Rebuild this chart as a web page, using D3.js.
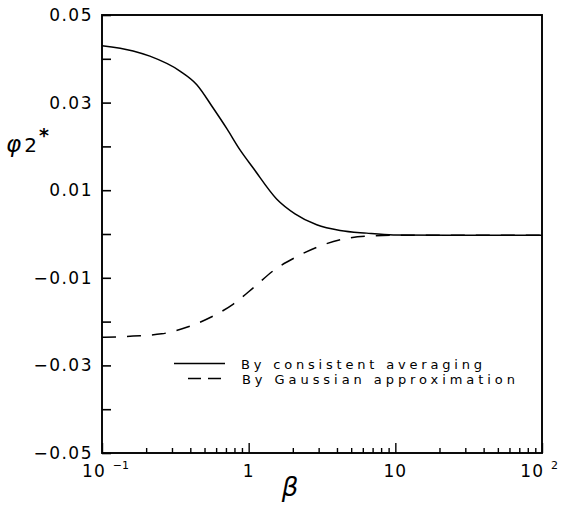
<!DOCTYPE html>
<html>
<head>
<meta charset="utf-8">
<script src="https://cdn.jsdelivr.net/npm/d3@7"></script>
<style>
  html, body { margin: 0; padding: 0; background: #fff; }
  svg { display: block; }
  text { font-family: "DejaVu Sans", sans-serif; fill: #000; }
</style>
</head>
<body>
<svg id="chart" width="563" height="508"></svg>
<script>
// β values and φ2* for the consistent-averaging result (solid curve)
const betaAveraging = [0.1, 0.163, 0.212, 0.34, 0.443, 0.574, 0.708, 0.873, 1.077, 1.55, 2.07, 2.91, 4.2, 6.38, 9.7, 23.5, 100];
const phiAveraging  = [0.0430, 0.0418, 0.0406, 0.0372, 0.0341, 0.0287, 0.0241, 0.0192, 0.0150, 0.0080, 0.0046, 0.0021, 0.0008, 0.0002, -0.0002, -0.0003, -0.0003];

// β values and φ2* for the Gaussian approximation (dashed curve)
const betaGaussian = [0.1, 0.163, 0.255, 0.378, 0.56, 0.786, 1.10, 1.51, 2.12, 2.98, 4.66, 7.08, 9.64, 100];
const phiGaussian  = [-0.0236, -0.0233, -0.0228, -0.0213, -0.0189, -0.0160, -0.0120, -0.0081, -0.0052, -0.0029, -0.0010, -0.0004, -0.0003, -0.0003];

// Axis ticks
const yTickValues = [0.05, 0.04, 0.03, 0.02, 0.01, 0, -0.01, -0.02, -0.03, -0.04, -0.05];
const yLabelValues = [0.05, 0.03, 0.01, -0.01, -0.03, -0.05];
const xMajorValues = [0.1, 1, 10, 100];
const xMajorLabels = [["10", "\u22121"], ["1", null], ["10", null], ["10", "2"]];
const xMinorValues = [0.2,0.3,0.4,0.5,0.6,0.7,0.8,0.9, 2,3,4,5,6,7,8,9, 20,30,40,50,60,70,80,90];

const seriesNames = ["By consistent averaging", "By Gaussian approximation"];

const svg = d3.select("#chart");
const plotLeft = 102, plotRight = 542, plotTop = 15, plotBottom = 453;

const x = d3.scaleLog().domain([0.1, 100]).range([plotLeft, plotRight]);
const y = d3.scaleLinear().domain([-0.05, 0.05]).range([plotBottom, plotTop]);

// y axis: inward ticks at every 0.01
svg.append("g")
  .attr("transform", `translate(${plotLeft},0)`)
  .call(d3.axisLeft(y).tickValues(yTickValues).tickSize(-9).tickSizeOuter(0).tickFormat(""))
  .call(g => g.select(".domain").remove())
  .selectAll("line").attr("stroke", "#000").attr("stroke-width", 1.6);

// y labels
const fmt = d3.format(".2f");
svg.append("g")
  .attr("transform", `translate(${plotLeft},0)`)
  .call(d3.axisLeft(y).tickValues(yLabelValues).tickSize(0).tickPadding(9).tickFormat(d => fmt(d)))
  .call(g => g.select(".domain").remove())
  .selectAll("text")
    .attr("font-size", 17)
    .attr("letter-spacing", "1.5px")
    .attr("font-family", "DejaVu Sans, sans-serif")
    .attr("fill", "#000");

// x axis minor ticks
svg.append("g")
  .attr("transform", `translate(0,${plotBottom})`)
  .call(d3.axisBottom(x).tickValues(xMinorValues).tickSize(-5).tickSizeOuter(0).tickFormat(""))
  .call(g => g.select(".domain").remove())
  .selectAll("line").attr("stroke", "#000").attr("stroke-width", 1.4);

// x axis major ticks
svg.append("g")
  .attr("transform", `translate(0,${plotBottom})`)
  .call(d3.axisBottom(x).tickValues(xMajorValues).tickSize(-10).tickSizeOuter(0).tickFormat(""))
  .call(g => g.select(".domain").remove())
  .selectAll("line").attr("stroke", "#000").attr("stroke-width", 1.4);

// x labels with powers of ten
xMajorValues.forEach((v, i) => {
  const [base, sup] = xMajorLabels[i];
  const t = svg.append("text")
    .attr("y", 477)
    .attr("font-size", 17)
    .attr("letter-spacing", "1px");
  t.append("tspan").text(base);
  if (sup) {
    t.append("tspan").attr("dx", 7).attr("dy", -8).attr("font-size", 11).attr("letter-spacing", "0px").text(sup);
  }
  const w = t.node().getComputedTextLength();
  let cx = x(v) - w / 2;
  if (cx + w > plotRight + 9) cx = plotRight + 9 - w;
  t.attr("x", cx);
});

// frame
svg.append("rect")
  .attr("x", plotLeft).attr("y", plotTop)
  .attr("width", plotRight - plotLeft).attr("height", plotBottom - plotTop)
  .attr("fill", "none").attr("stroke", "#000").attr("stroke-width", 1.9);

// curves
const line = d3.line().x(d => x(d[0])).y(d => y(d[1])).curve(d3.curveMonotoneX);

svg.append("path")
  .datum(d3.zip(betaAveraging, phiAveraging))
  .attr("d", line)
  .attr("fill", "none").attr("stroke", "#000").attr("stroke-width", 1.5);

svg.append("path")
  .datum(d3.zip(betaGaussian, phiGaussian))
  .attr("d", line)
  .attr("fill", "none").attr("stroke", "#000").attr("stroke-width", 1.5)
  .attr("stroke-dasharray", "14,11");

// legend
svg.append("line").attr("x1", 174).attr("x2", 225).attr("y1", 363.5).attr("y2", 363.5)
  .attr("stroke", "#000").attr("stroke-width", 1.3);
svg.append("text").attr("x", 241).attr("y", 368.5).attr("font-size", 13)
  .attr("textLength", 241).attr("lengthAdjust", "spacing").text(seriesNames[0]);

svg.append("line").attr("x1", 188).attr("x2", 222).attr("y1", 378.5).attr("y2", 378.5)
  .attr("stroke", "#000").attr("stroke-width", 1.3).attr("stroke-dasharray", "13,7");
svg.append("text").attr("x", 242).attr("y", 384).attr("font-size", 13)
  .attr("textLength", 273).attr("lengthAdjust", "spacing").text(seriesNames[1]);

// axis titles
svg.append("text").attr("x", 290).attr("y", 496).attr("text-anchor", "middle")
  .attr("font-style", "italic")
  .attr("font-size", 26).text("β");

const yTitle = svg.append("text").attr("x", 6).attr("y", 152);
yTitle.append("tspan").attr("font-style", "italic")
  .attr("font-size", 23).text("φ");
yTitle.append("tspan").attr("dx", 3).attr("font-size", 20).text("2");
yTitle.append("tspan").attr("dx", 2).attr("dy", -10).attr("font-size", 19).attr("font-weight", "bold").text("*");
</script>
</body>
</html>
